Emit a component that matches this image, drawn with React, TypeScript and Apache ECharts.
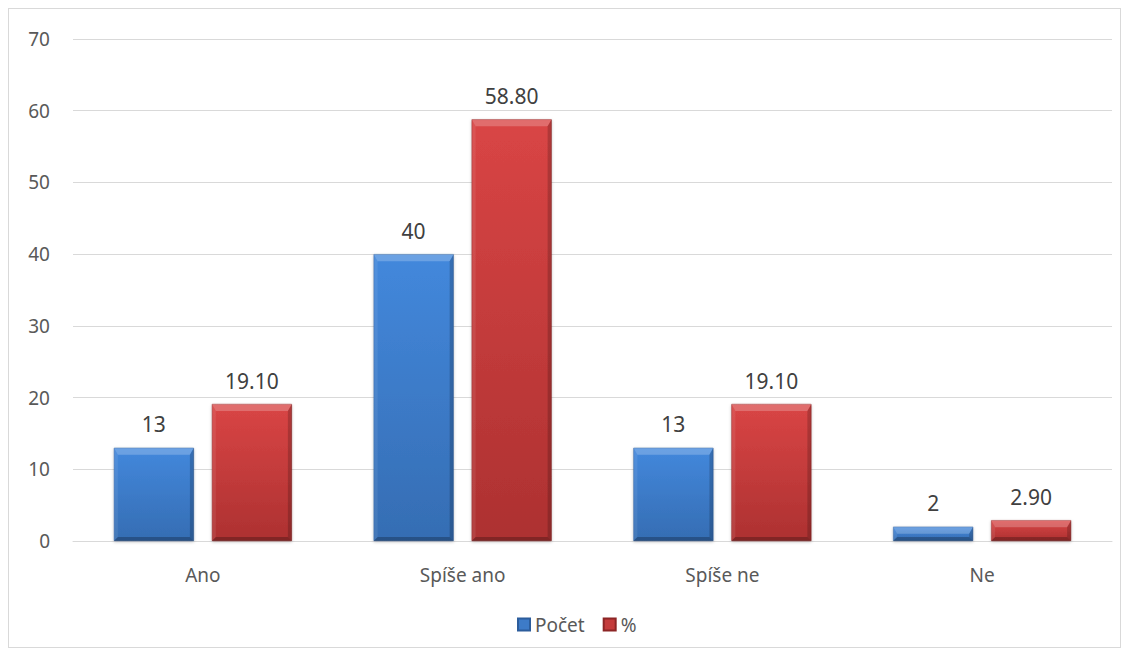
import React, { useEffect, useRef } from "react";
import * as echarts from "echarts";

const categories = ["Ano", "Spíše ano", "Spíše ne", "Ne"];
const countValues = [13, 40, 13, 2];
const percentValues = [19.1, 58.8, 19.1, 2.9];
const seriesNames = ["Počet", "%"];
const yTicks = [0, 10, 20, 30, 40, 50, 60, 70];

const FONT = "'Noto Sans', 'Open Sans', sans-serif";
const TEXT = "#595959";
const BAR_W = 80;
const GAP = 18;

const palettes = [
  { top: "#4388dc", bottom: "#356db3", border: "#2c5d9c", legend: "#3d7bc8" },
  { top: "#d94545", bottom: "#ad3131", border: "#8c2525", legend: "#c43b3b" },
];

// Bevel overlay drawn on top of each bar: light top edge, darker right and bottom.
function bevelRenderer(seriesIdx: number) {
  return (params: any, api: any) => {
    const cat = api.value(0);
    const val = api.value(1);
    const base = api.coord([cat, 0]);
    const topPt = api.coord([cat, val]);
    const cx = base[0];
    const x0 = seriesIdx === 0 ? cx - GAP / 2 - BAR_W : cx + GAP / 2;
    const x1 = x0 + BAR_W;
    const y0 = topPt[1];
    const y1 = base[1];
    const h = y1 - y0;
    const t = Math.min(7, h / 2);
    const s = Math.min(4, h / 2);
    const b = Math.min(4, h / 2);
    return {
      type: "group",
      silent: true,
      children: [
        {
          type: "polygon",
          shape: { points: [[x0, y0], [x1, y0], [x1 - s, y0 + t], [x0 + s, y0 + t]] },
          style: { fill: "rgba(255,255,255,0.22)" },
        },
        {
          type: "polygon",
          shape: { points: [[x0, y0], [x0 + s, y0 + t], [x0 + s, y1 - b], [x0, y1]] },
          style: { fill: "rgba(255,255,255,0.08)" },
        },
        {
          type: "polygon",
          shape: { points: [[x1, y0], [x1, y1], [x1 - s, y1 - b], [x1 - s, y0 + t]] },
          style: { fill: "rgba(0,0,0,0.18)" },
        },
        {
          type: "polygon",
          shape: { points: [[x0, y1], [x0 + s, y1 - b], [x1 - s, y1 - b], [x1, y1]] },
          style: { fill: "rgba(0,0,0,0.25)" },
        },
      ],
    };
  };
}

export default function App() {
  const ref = useRef<HTMLDivElement>(null);

  useEffect(() => {
    if (!ref.current) return;
    const chart = echarts.init(ref.current, null, { renderer: "svg" });
    const barSeries = [countValues, percentValues].map((vals, i) => ({
      name: seriesNames[i],
      type: "bar",
      data: vals,
      barWidth: BAR_W,
      barGap: `${(GAP / BAR_W) * 100}%`,
      itemStyle: {
        color: new echarts.graphic.LinearGradient(0, 0, 0, 1, [
          { offset: 0, color: palettes[i].top },
          { offset: 1, color: palettes[i].bottom },
        ]),
        borderColor: palettes[i].border,
        borderWidth: 0.5,
        shadowColor: "rgba(0,0,0,0.25)",
        shadowBlur: 3,
        shadowOffsetY: 1,
      },
      label: {
        show: true,
        position: "top",
        distance: 13,
        color: "#404040",
        fontFamily: FONT,
        fontSize: 21,
        formatter: (p: any) => (i === 0 ? String(p.value) : Number(p.value).toFixed(2)),
      },
      z: 2,
    }));
    const bevelSeries = [countValues, percentValues].map((vals, i) => ({
      type: "custom",
      renderItem: bevelRenderer(i),
      data: vals.map((v, k) => [k, v]),
      z: 3,
      silent: true,
      tooltip: { show: false },
    }));

    chart.setOption({
      animation: false,
      grid: { left: 64, right: 8, top: 30, bottom: 106 },
      legend: {
        data: seriesNames.map((n, i) => ({ name: n, itemStyle: { color: palettes[i].legend } })),
        left: 503,
        top: 601,
        icon: "rect",
        itemWidth: 12,
        itemHeight: 12,
        itemGap: 18,
        textStyle: { color: TEXT, fontFamily: FONT, fontSize: 19 },
      },
      xAxis: {
        type: "category",
        data: categories,
        axisLine: { lineStyle: { color: "#d9d9d9" } },
        axisTick: { show: false },
        axisLabel: { color: TEXT, fontFamily: FONT, fontSize: 19, margin: 24 },
      },
      yAxis: {
        type: "value",
        min: yTicks[0],
        max: yTicks[yTicks.length - 1],
        interval: 10,
        axisLine: { show: false },
        axisTick: { show: false },
        splitLine: { lineStyle: { color: "#d9d9d9" } },
        axisLabel: { color: TEXT, fontFamily: FONT, fontSize: 19, margin: 23 },
      },
      series: [...barSeries, ...bevelSeries],
    });
    return () => chart.dispose();
  }, []);

  return (
    <div
      style={{
        width: 1113,
        height: 640,
        border: "1px solid #d9d9d9",
        boxSizing: "border-box",
        background: "#fff",
      }}
    >
      <div ref={ref} style={{ width: 1111, height: 638 }} />
    </div>
  );
}
